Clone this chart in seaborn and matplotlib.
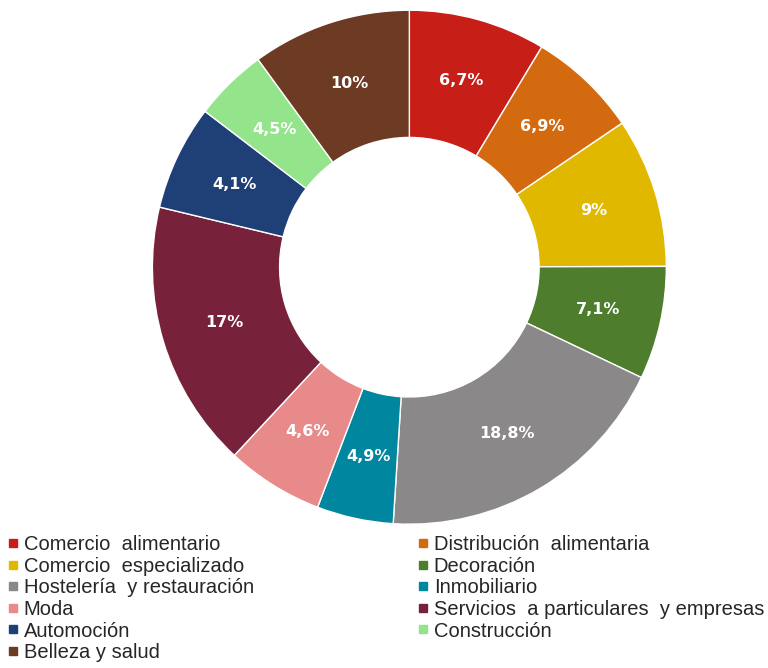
import numpy as np
import matplotlib
matplotlib.use("Agg")
import matplotlib.pyplot as plt
import seaborn as sns
from matplotlib.lines import Line2D

sns.set_theme(style="white")
plt.rcParams["font.family"] = ["Liberation Sans", "DejaVu Sans"]

# Sectores (en el orden del grafico, empezando arriba y en sentido horario)
sectores = [
    "Comercio  alimentario", "Distribución  alimentaria", "Comercio  especializado",
    "Decoración", "Hostelería  y restauración", "Inmobiliario", "Moda",
    "Servicios  a particulares  y empresas", "Automoción", "Construcción",
    "Belleza y salud",
]
cuota = [8.6, 6.9, 9.4, 7.1, 18.9, 4.8, 6.1, 16.8, 6.6, 4.6, 10.0]
# etiquetas tal como aparecen en el grafico
etiquetas = ["6,7%", "6,9%", "9%", "7,1%", "18,8%", "4,9%", "4,6%", "17%", "4,1%", "4,5%", "10%"]
colores = ["#C81E18", "#D46A10", "#E0B800", "#4E7D2E", "#8A8889", "#00869E",
           "#E88A8A", "#78213A", "#1F4077", "#93E48A", "#6D3A23"]

fig = plt.figure(figsize=(7.68, 6.68), dpi=100)
ax = fig.add_axes([0.533 - 0.3346, 0.600 - 0.3847, 0.6692, 0.7694])

wedges, _ = ax.pie(cuota, colors=colores, startangle=90, counterclock=False,
                   radius=1.0, wedgeprops=dict(width=0.495, edgecolor="white", linewidth=1))
ax.set_xlim(-1, 1)
ax.set_ylim(-1, 1)
ax.set_aspect("equal")
ax.axis("off")

r_lab = 0.752
for w, txt in zip(wedges, etiquetas):
    ang = np.deg2rad((w.theta1 + w.theta2) / 2)
    ax.text(r_lab * np.cos(ang), r_lab * np.sin(ang), txt, color="white",
            fontsize=11.5, fontweight="bold", ha="center", va="center",
            family=["DejaVu Sans"])

# Leyenda en dos columnas (orden por filas)
def handle(c):
    return Line2D([], [], marker="s", color="none", markerfacecolor=c,
                  markeredgecolor=c, markersize=6)

idx_izq = list(range(0, len(sectores), 2))
idx_der = list(range(1, len(sectores), 2))
kw = dict(frameon=False, fontsize=14.5, handlelength=0.45, handletextpad=0.3,
          labelspacing=0.13, borderaxespad=0, borderpad=0, loc="upper left")
fig.legend([handle(colores[i]) for i in idx_izq], [sectores[i] for i in idx_izq],
           bbox_to_anchor=(0.011, 0.199), **kw)
fig.legend([handle(colores[i]) for i in idx_der], [sectores[i] for i in idx_der],
           bbox_to_anchor=(0.545, 0.199), **kw)

fig.savefig("out.png", dpi=100, facecolor="white")
